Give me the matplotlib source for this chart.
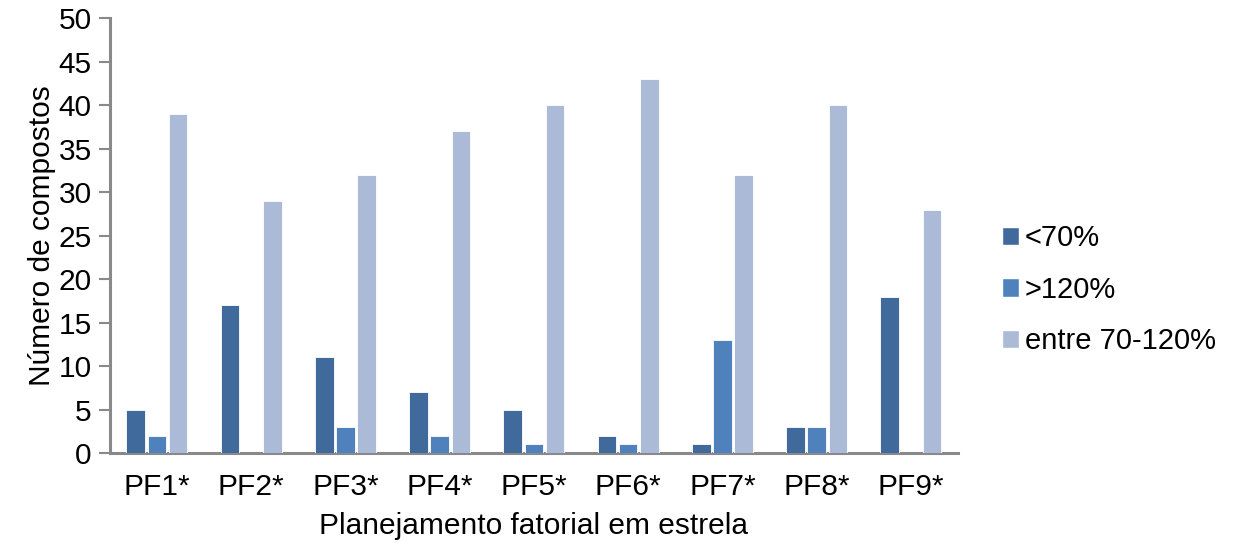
import numpy as np
import matplotlib.pyplot as plt
from matplotlib.patches import Patch

plt.rcParams['font.family'] = ['Liberation Sans', 'DejaVu Sans']

# dados
grupos = ["PF1*", "PF2*", "PF3*", "PF4*", "PF5*", "PF6*", "PF7*", "PF8*", "PF9*"]
menor70 = [5, 17, 11, 7, 5, 2, 1, 3, 18]
maior120 = [2, 0, 3, 2, 1, 1, 13, 3, 0]
entre = [39, 29, 32, 37, 40, 43, 32, 40, 28]
series = ["<70%", ">120%", "entre 70-120%"]
cores = ["#416A9C", "#4F81BD", "#AABAD7"]

fig = plt.figure(figsize=(12.33, 5.52), dpi=100)
ax = fig.add_axes([0.089, 0.179, 0.688, 0.788])

x = np.arange(len(grupos))
w = 0.225
for i, (vals, c) in enumerate(zip([menor70, maior120, entre], cores)):
    ax.bar(x + (i - 1) * w, vals, width=w * 0.88, color=c, edgecolor="white",
           linewidth=0.6, zorder=3)

ax.set_xlim(-0.5, len(grupos) - 0.5)
ax.set_ylim(0, 50)
ax.set_yticks(range(0, 51, 5))
ax.set_xticks(x)
ax.set_xticklabels(grupos)
ax.tick_params(axis="x", length=0, labelsize=21.5, pad=14)
ax.tick_params(axis="y", length=8, width=1.5, color="#898989", labelsize=21.5, pad=5)

for s in ["top", "right"]:
    ax.spines[s].set_visible(False)
for s in ["left", "bottom"]:
    ax.spines[s].set_color("#898989")
    ax.spines[s].set_linewidth(2.2)

ax.set_xlabel("Planejamento fatorial em estrela", fontsize=21.5, labelpad=8)
ax.set_ylabel("Número de compostos", fontsize=21.5, labelpad=2)

handles = [Patch(facecolor=c, edgecolor="white") for c in cores]
fig.legend(handles, series, loc="center left", bbox_to_anchor=(0.803, 0.475),
           frameon=False, fontsize=21, handlelength=0.6, handleheight=0.6,
           handletextpad=0.2, labelspacing=0.8, borderaxespad=0)

fig.savefig("out.png", dpi=100)
